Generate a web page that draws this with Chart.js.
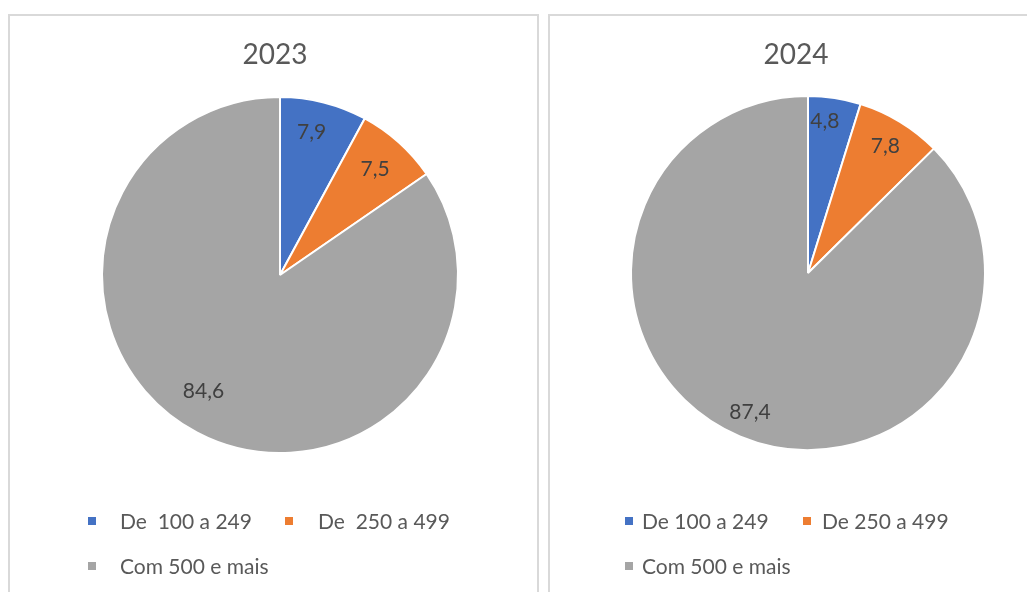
<!DOCTYPE html>
<html>
<head>
<meta charset="utf-8">
<script src="https://cdn.jsdelivr.net/npm/chart.js@4.4.0/dist/chart.umd.min.js"></script>
<style>
  body { margin: 0; background: #fff; width: 1027px; height: 592px; overflow: hidden; position: relative; }
  .panel { position: absolute; top: 14px; height: 600px; border: 2px solid #d9d9d9; box-sizing: border-box; }
  canvas { position: absolute; }
</style>
</head>
<body>
<div class="panel" style="left:8px;width:531px;"></div>
<div class="panel" style="left:548px;width:520px;"></div>
<canvas id="pie2023" width="527" height="576" style="left:10px;top:16px;"></canvas>
<canvas id="pie2024" width="477" height="576" style="left:550px;top:16px;"></canvas>
<script>
var colors = ['#4472C4', '#ED7D31', '#A5A5A5'];
var labels2023 = ['De  100 a 249', 'De  250 a 499', 'Com 500 e mais'];
var labels2024 = ['De 100 a 249', 'De 250 a 499', 'Com 500 e mais'];
var values2023 = [7.9, 7.5, 84.6];
var values2024 = [4.8, 7.8, 87.4];

var font = 'Lato, "Open Sans", sans-serif';

// title, slice values and legend drawn on the canvas
var extras = {
    id: 'extras',
    afterDraw: function (chart) {
        var o = chart.options.plugins.extras;
        var ctx = chart.ctx;
        ctx.save();
        ctx.fillStyle = '#595959';
        ctx.font = '28px ' + font;
        ctx.textAlign = 'center';
        ctx.textBaseline = 'middle';
        ctx.fillText(o.title, o.titleX, 39);

        var meta = chart.getDatasetMeta(0);
        ctx.font = '21px ' + font;
        ctx.fillStyle = '#404040';
        meta.data.forEach(function (arc, i) {
            var a = (arc.startAngle + arc.endAngle) / 2 + (o.nudge[i] || 0);
            var r = arc.outerRadius * o.labelR[i];
            var v = chart.data.datasets[0].data[i];
            ctx.fillText(v.toFixed(1).replace('.', ','), arc.x + Math.cos(a) * r, arc.y + Math.sin(a) * r);
        });

        ctx.textAlign = 'left';
        o.legend.forEach(function (p, i) {
            ctx.fillStyle = colors[i];
            ctx.fillRect(p[0] - 4, p[2] - 4, 8, 8);
            ctx.fillStyle = '#595959';
            ctx.fillText(chart.data.labels[i], p[1], p[2] + 1);
        });
        ctx.restore();
    }
};

function makePie(id, labels, values, pad, extra) {
    new Chart(document.getElementById(id).getContext('2d'), {
        type: 'pie',
        data: {
            labels: labels,
            datasets: [{
                data: values,
                backgroundColor: colors,
                borderColor: '#ffffff',
                borderWidth: 2
            }]
        },
        options: {
            responsive: false,
            animation: false,
            layout: { padding: pad },
            plugins: {
                legend: { display: false },
                tooltip: { enabled: false },
                extras: extra
            }
        },
        plugins: [extras]
    });
}

makePie('pie2023', labels2023, values2023,
    { left: 91, right: 78, top: 80, bottom: 138 },
    {
        title: '2023', titleX: 265,
        labelR: [0.82, 0.8, 0.78], nudge: [-0.03, 0, 0.1],
        legend: [[82, 110, 505], [279, 308, 505], [82, 110, 550]]
    });

makePie('pie2024', labels2024, values2024,
    { left: 80, right: 41, top: 79, bottom: 141 },
    {
        title: '2024', titleX: 246,
        labelR: [0.86, 0.84, 0.85], nudge: [-0.04, 0, 0],
        legend: [[79, 92, 505], [257, 272, 505], [79, 92, 550]]
    });
</script>
</body>
</html>
